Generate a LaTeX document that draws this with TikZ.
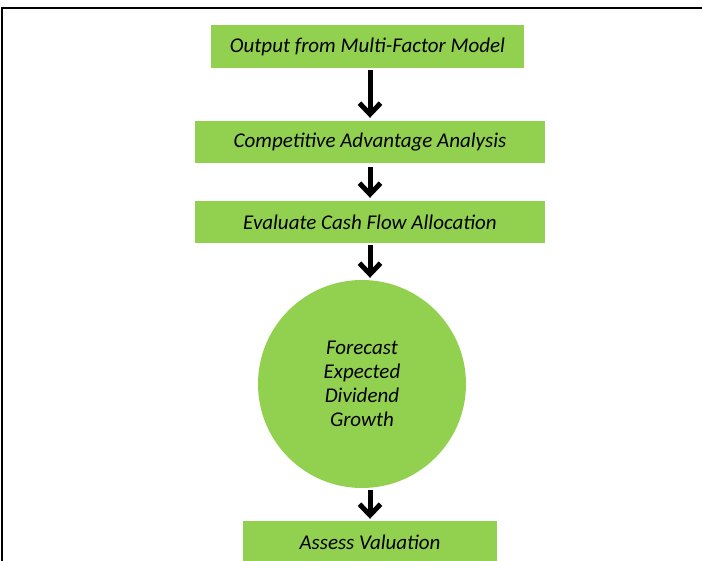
\documentclass[tikz,border=0pt]{standalone}
\usepackage{fontspec}
\setmainfont{Carlito}
\usetikzlibrary{arrows.meta,positioning}
\definecolor{stepgreen}{HTML}{92D050}
\tikzset{
    step text/.style={font=\fontsize{21}{24}\selectfont\itshape},
    box/.style={step text,fill=stepgreen,inner sep=0pt,minimum height=42pt},
    bubble/.style={step text,circle,fill=stepgreen,inner sep=0pt,minimum size=208pt,align=center},
    arr/.style={-{Straight Barb[length=11pt,width=21pt]},line width=5pt},
    frame line/.style={line width=2.5pt},
}

\begin{document}
\begin{tikzpicture}[x=1pt,y=-1pt]
    \useasboundingbox (0,0) rectangle (702,561);
    \draw[frame line] (2,561) -- (2,8) -- (702,8);

    \node[box,minimum width=313pt,minimum height=43pt] (model) at (367.5,46.5) {Output from Multi-Factor Model};
    \node[box,minimum width=350pt] (adv) at (370,142) {Competitive Advantage Analysis};
    \node[box,minimum width=350pt] (flow) at (370,222) {Evaluate Cash Flow Allocation};
    \node[bubble] (growth) at (362,384) {Forecast\\Expected\\Dividend\\Growth};
    \node[box,minimum width=254pt] (value) at (370,542) {Assess Valuation};

    \draw[arr,shorten <=2pt,shorten >=3pt] (model.south -| adv.north) -- (adv.north);
    \draw[arr,shorten <=4pt,shorten >=3pt] (adv.south) -- (flow.north);
    \draw[arr,shorten <=2pt,shorten >=2pt] (flow.south) -- (flow.south |- growth.north);
    \draw[arr,shorten <=2pt,shorten >=2pt] (value.north |- growth.south) -- (value.north);
\end{tikzpicture}
\end{document}
